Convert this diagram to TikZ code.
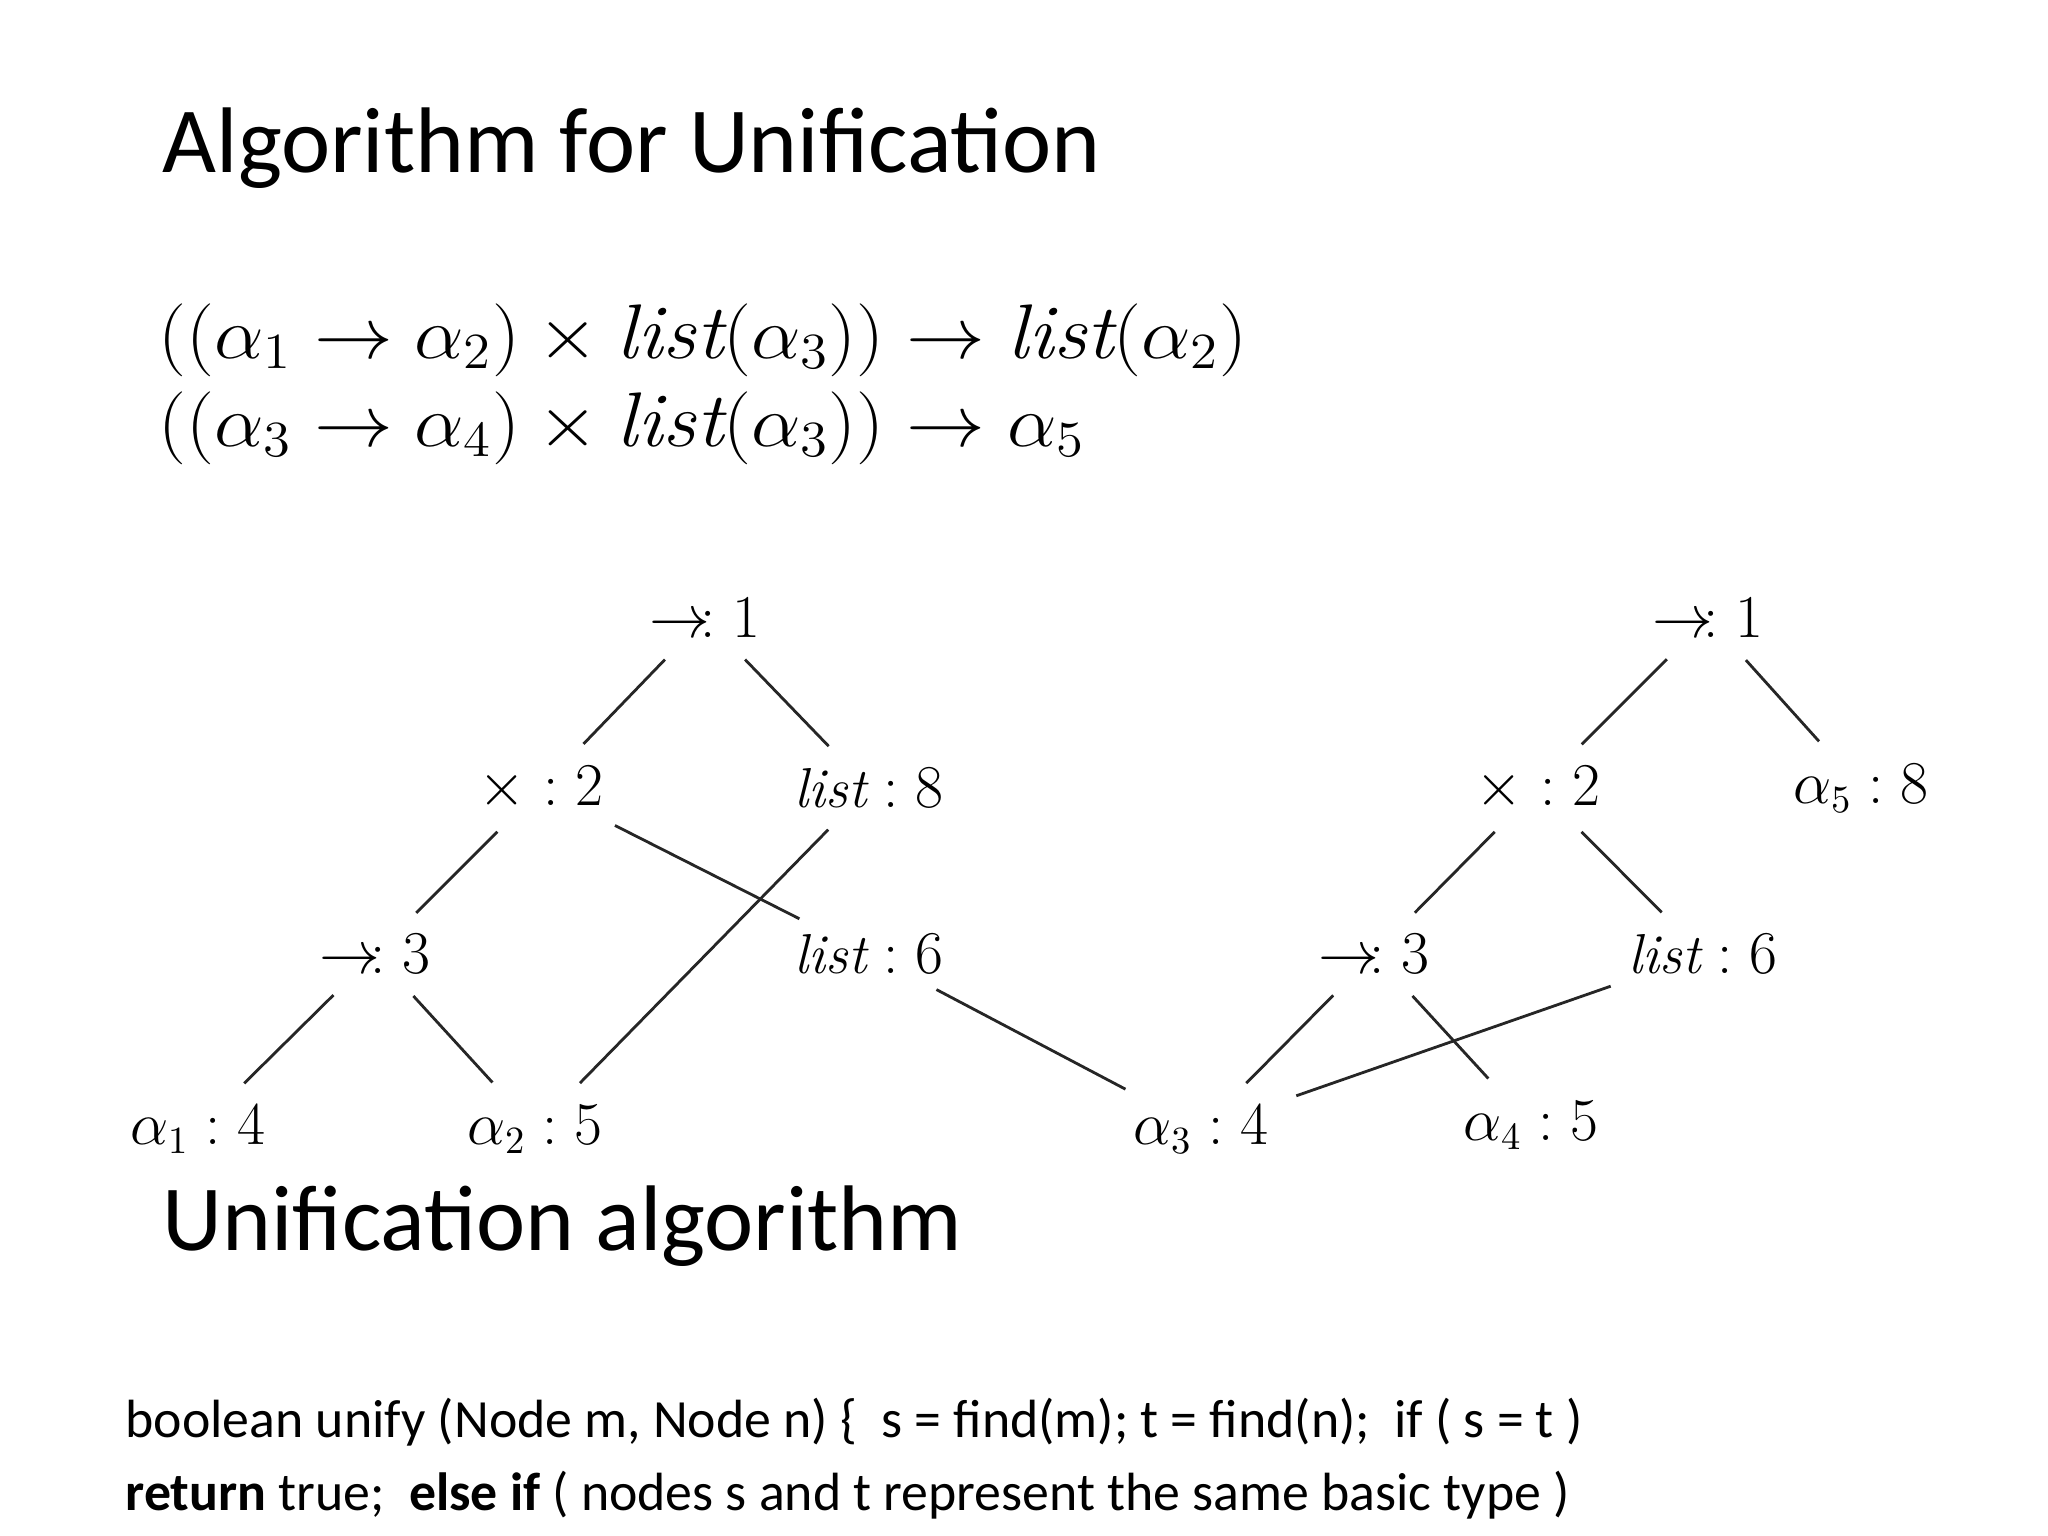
\documentclass[tikz,border=0pt]{standalone}
\usepackage{fontspec}
\setsansfont{Carlito}
\begin{document}
\begin{tikzpicture}[x=0.01cm,y=-0.01cm,
  tl/.style={inner sep=1pt,font=\fontsize{16}{19}\selectfont},
  ed/.style={line width=0.8pt,black!85,shorten <=7pt,shorten >=7pt},
  hd/.style={anchor=base west,inner sep=0pt,font=\sffamily\fontsize{26.5}{30}\selectfont},
  bd/.style={anchor=base west,inner sep=0pt,font=\sffamily\fontsize{15.3}{18}\selectfont},
  fm/.style={anchor=base west,inner sep=0pt,xscale=1.08,font=\fontsize{22}{26}\selectfont}]
\useasboundingbox (0,0) rectangle (2048,1536);
\node[hd] (t1) at (162,172) {Algorithm for Unification};
\node[fm] (f1) at (158,358) {$((\alpha_1\rightarrow\alpha_2)\times \mathit{list}(\alpha_3))\rightarrow \mathit{list}(\alpha_2)$};
\node[fm] (f2) at (158,446) {$((\alpha_3\rightarrow\alpha_4)\times \mathit{list}(\alpha_3))\rightarrow \alpha_5$};
% left tree
\node[tl] (a1) at (705,618) {$\rightarrow\!: 1$};
\node[tl] (a2) at (541,788) {$\times: 2$};
\node[tl] (a8) at (869,788) {$\mathit{list}: 8$};
\node[tl] (a3) at (375,954) {$\rightarrow\!: 3$};
\node[tl] (a6) at (869,954) {$\mathit{list}: 6$};
\node[tl] (a4) at (198,1129) {$\alpha_1: 4$};
\node[tl] (a5) at (535,1129) {$\alpha_2: 5$};
\node[tl] (c4) at (1201,1129) {$\alpha_3: 4$};
% right tree
\node[tl] (b1) at (1708,618) {$\rightarrow\!: 1$};
\node[tl] (b2) at (1538,788) {$\times: 2$};
\node[tl] (b8) at (1861,788) {$\alpha_5: 8$};
\node[tl] (b3) at (1374,954) {$\rightarrow\!: 3$};
\node[tl] (b6) at (1703,954) {$\mathit{list}: 6$};
\node[tl] (b5) at (1531,1125) {$\alpha_4: 5$};
\draw[ed] (a1) -- (a2); \draw[ed] (a1) -- (a8);
\draw[ed] (a2) -- (a3); \draw[ed] (a2) -- (a6);
\draw[ed] (a8) -- (a5);
\draw[ed] (a3) -- (a4); \draw[ed] (a3) -- (a5);
\draw[ed] (a6) -- (c4);
\draw[ed] (b1) -- (b2); \draw[ed] (b1) -- (b8);
\draw[ed] (b2) -- (b3); \draw[ed] (b2) -- (b6);
\draw[ed] (b3) -- (c4); \draw[ed] (b3) -- (b5);
\draw[ed] (b6) -- (c4);
\node[hd] (t2) at (162,1250) {Unification algorithm};
\node[bd] (l1) at (125,1437) {boolean unify (Node m, Node n) \{\ \ s = find(m); t = find(n);\ \ if ( s = t )};
\node[bd] (l2) at (125,1510) {\textbf{return} true;\ \ \textbf{else if} ( nodes s and t represent the same basic type )};
\end{tikzpicture}
\end{document}
